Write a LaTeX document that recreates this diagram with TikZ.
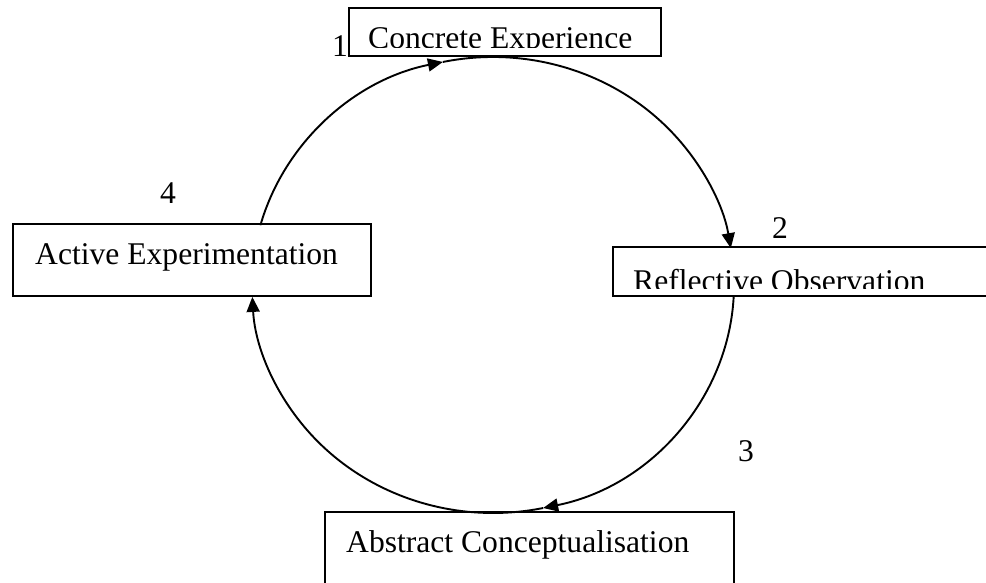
\documentclass[tikz,border=0pt]{standalone}
\usepackage{fontspec}
\setmainfont{Liberation Serif}
\usetikzlibrary{arrows.meta}
\begin{document}
\begin{tikzpicture}[x=1pt,y=1pt,
  box/.style={draw=black, line width=2.4pt, inner sep=0pt, anchor=south west},
  cyc/.style={line width=1.9pt, -{Triangle[length=15pt,width=13pt]}},
  lbl/.style={anchor=base west, inner sep=0pt, font=\fontsize{31.6}{36}\selectfont},
  ell/.style={x radius=241pt, y radius=228pt}
]
\useasboundingbox (0,0) rectangle (986,583);
\coordinate (c) at (493,298);
% cycle arcs
\path (c) ++(164.8:241pt and 228pt) coordinate (a1);
\draw[cyc] (a1) arc[start angle=164.8, end angle=102, ell] coordinate (a2);
\draw[cyc] (a2) arc[start angle=102, end angle=9.3, ell];
\path (c) ++(-3:241pt and 228pt) coordinate (a3);
\draw[cyc] (a3) arc[start angle=-3, end angle=-78, ell] coordinate (a4);
\draw[cyc] (a4) arc[start angle=-78, end angle=-177, ell];
% boxes
\node[box, minimum width=312pt, minimum height=48pt] (ce) at (348,526) {};
\node[box, minimum width=358pt, minimum height=72pt] (ae) at (12,286) {};
\node[box, minimum width=390pt, minimum height=49pt] (ro) at (612,286) {};
\node[box, minimum width=409pt, minimum height=90pt] (ac) at (324,-20) {};
% texts
\begin{scope}
  \clip (348,535) rectangle (660,574);
  \node[lbl] (ceT) at (368,534) {Concrete Experience};
\end{scope}
\begin{scope}
  \clip (612,294.5) rectangle (1000,335);
  \node[lbl] (roT) at (633,291.5) {Reflective Observation};
\end{scope}
\node[lbl] (aeT) at (35,318) {Active Experimentation};
\node[lbl] (acT) at (346,30) {Abstract Conceptualisation};
% numbers
\node[lbl] (n1) at (332,526) {1};
\node[lbl] (n2) at (772,344) {2};
\node[lbl] (n3) at (738,121) {3};
\node[lbl] (n4) at (160,379) {4};
\end{tikzpicture}
\end{document}
